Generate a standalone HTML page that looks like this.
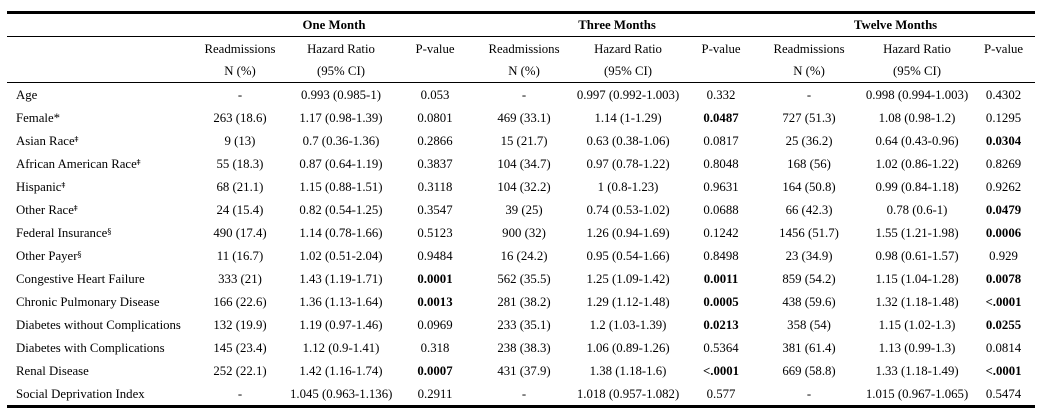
<!DOCTYPE html>
<html><head><meta charset="utf-8"><style>
body{margin:0;background:#fff;width:1042px;height:418px;overflow:hidden;font-family:"Liberation Serif",serif;font-size:12.8px;color:#000}
table{position:absolute;left:7px;top:11px;width:1028px;border-collapse:collapse;table-layout:fixed}
td{padding:0;text-align:center;white-space:nowrap;height:23px;line-height:22px}
td.l{text-align:left;padding-left:9px}
tr.g td{height:22px;font-weight:bold;border-top:3px solid #000;border-bottom:1px solid #000}
tr.h1 td{height:23px}
tr.h2 td{height:22px;border-bottom:1px solid #000}
tr.last td{border-bottom:3px solid #000}
b{font-weight:bold}
sup{font-size:8px;vertical-align:3px;line-height:0;font-family:"DejaVu Serif",serif}
</style></head><body>
<table>
<colgroup><col style="width:183px"><col style="width:100px"><col style="width:102px"><col style="width:86px"><col style="width:92px"><col style="width:116px"><col style="width:70px"><col style="width:106px"><col style="width:110px"><col style="width:63px"></colgroup>
<tr class="g"><td></td><td colspan="3">One Month</td><td colspan="3">Three Months</td><td colspan="3">Twelve Months</td></tr>
<tr class="h1"><td></td><td>Readmissions</td><td>Hazard Ratio</td><td>P-value</td><td>Readmissions</td><td>Hazard Ratio</td><td>P-value</td><td>Readmissions</td><td>Hazard Ratio</td><td>P-value</td></tr>
<tr class="h2"><td></td><td>N (%)</td><td>(95% CI)</td><td></td><td>N (%)</td><td>(95% CI)</td><td></td><td>N (%)</td><td>(95% CI)</td><td></td></tr>
<tr><td class="l">Age</td><td>-</td><td>0.993 (0.985-1)</td><td>0.053</td><td>-</td><td>0.997 (0.992-1.003)</td><td>0.332</td><td>-</td><td>0.998 (0.994-1.003)</td><td>0.4302</td></tr>
<tr><td class="l">Female*</td><td>263 (18.6)</td><td>1.17 (0.98-1.39)</td><td>0.0801</td><td>469 (33.1)</td><td>1.14 (1-1.29)</td><td><b>0.0487</b></td><td>727 (51.3)</td><td>1.08 (0.98-1.2)</td><td>0.1295</td></tr>
<tr><td class="l">Asian Race<sup>ǂ</sup></td><td>9 (13)</td><td>0.7 (0.36-1.36)</td><td>0.2866</td><td>15 (21.7)</td><td>0.63 (0.38-1.06)</td><td>0.0817</td><td>25 (36.2)</td><td>0.64 (0.43-0.96)</td><td><b>0.0304</b></td></tr>
<tr><td class="l">African American Race<sup>ǂ</sup></td><td>55 (18.3)</td><td>0.87 (0.64-1.19)</td><td>0.3837</td><td>104 (34.7)</td><td>0.97 (0.78-1.22)</td><td>0.8048</td><td>168 (56)</td><td>1.02 (0.86-1.22)</td><td>0.8269</td></tr>
<tr><td class="l">Hispanic<sup>ǂ</sup></td><td>68 (21.1)</td><td>1.15 (0.88-1.51)</td><td>0.3118</td><td>104 (32.2)</td><td>1 (0.8-1.23)</td><td>0.9631</td><td>164 (50.8)</td><td>0.99 (0.84-1.18)</td><td>0.9262</td></tr>
<tr><td class="l">Other Race<sup>ǂ</sup></td><td>24 (15.4)</td><td>0.82 (0.54-1.25)</td><td>0.3547</td><td>39 (25)</td><td>0.74 (0.53-1.02)</td><td>0.0688</td><td>66 (42.3)</td><td>0.78 (0.6-1)</td><td><b>0.0479</b></td></tr>
<tr><td class="l">Federal Insurance<sup>§</sup></td><td>490 (17.4)</td><td>1.14 (0.78-1.66)</td><td>0.5123</td><td>900 (32)</td><td>1.26 (0.94-1.69)</td><td>0.1242</td><td>1456 (51.7)</td><td>1.55 (1.21-1.98)</td><td><b>0.0006</b></td></tr>
<tr><td class="l">Other Payer<sup>§</sup></td><td>11 (16.7)</td><td>1.02 (0.51-2.04)</td><td>0.9484</td><td>16 (24.2)</td><td>0.95 (0.54-1.66)</td><td>0.8498</td><td>23 (34.9)</td><td>0.98 (0.61-1.57)</td><td>0.929</td></tr>
<tr><td class="l">Congestive Heart Failure</td><td>333 (21)</td><td>1.43 (1.19-1.71)</td><td><b>0.0001</b></td><td>562 (35.5)</td><td>1.25 (1.09-1.42)</td><td><b>0.0011</b></td><td>859 (54.2)</td><td>1.15 (1.04-1.28)</td><td><b>0.0078</b></td></tr>
<tr><td class="l">Chronic Pulmonary Disease</td><td>166 (22.6)</td><td>1.36 (1.13-1.64)</td><td><b>0.0013</b></td><td>281 (38.2)</td><td>1.29 (1.12-1.48)</td><td><b>0.0005</b></td><td>438 (59.6)</td><td>1.32 (1.18-1.48)</td><td><b>&lt;.0001</b></td></tr>
<tr><td class="l">Diabetes without Complications</td><td>132 (19.9)</td><td>1.19 (0.97-1.46)</td><td>0.0969</td><td>233 (35.1)</td><td>1.2 (1.03-1.39)</td><td><b>0.0213</b></td><td>358 (54)</td><td>1.15 (1.02-1.3)</td><td><b>0.0255</b></td></tr>
<tr><td class="l">Diabetes with Complications</td><td>145 (23.4)</td><td>1.12 (0.9-1.41)</td><td>0.318</td><td>238 (38.3)</td><td>1.06 (0.89-1.26)</td><td>0.5364</td><td>381 (61.4)</td><td>1.13 (0.99-1.3)</td><td>0.0814</td></tr>
<tr><td class="l">Renal Disease</td><td>252 (22.1)</td><td>1.42 (1.16-1.74)</td><td><b>0.0007</b></td><td>431 (37.9)</td><td>1.38 (1.18-1.6)</td><td><b>&lt;.0001</b></td><td>669 (58.8)</td><td>1.33 (1.18-1.49)</td><td><b>&lt;.0001</b></td></tr>
<tr class="last"><td class="l">Social Deprivation Index</td><td>-</td><td>1.045 (0.963-1.136)</td><td>0.2911</td><td>-</td><td>1.018 (0.957-1.082)</td><td>0.577</td><td>-</td><td>1.015 (0.967-1.065)</td><td>0.5474</td></tr>
</table>
</body></html>
